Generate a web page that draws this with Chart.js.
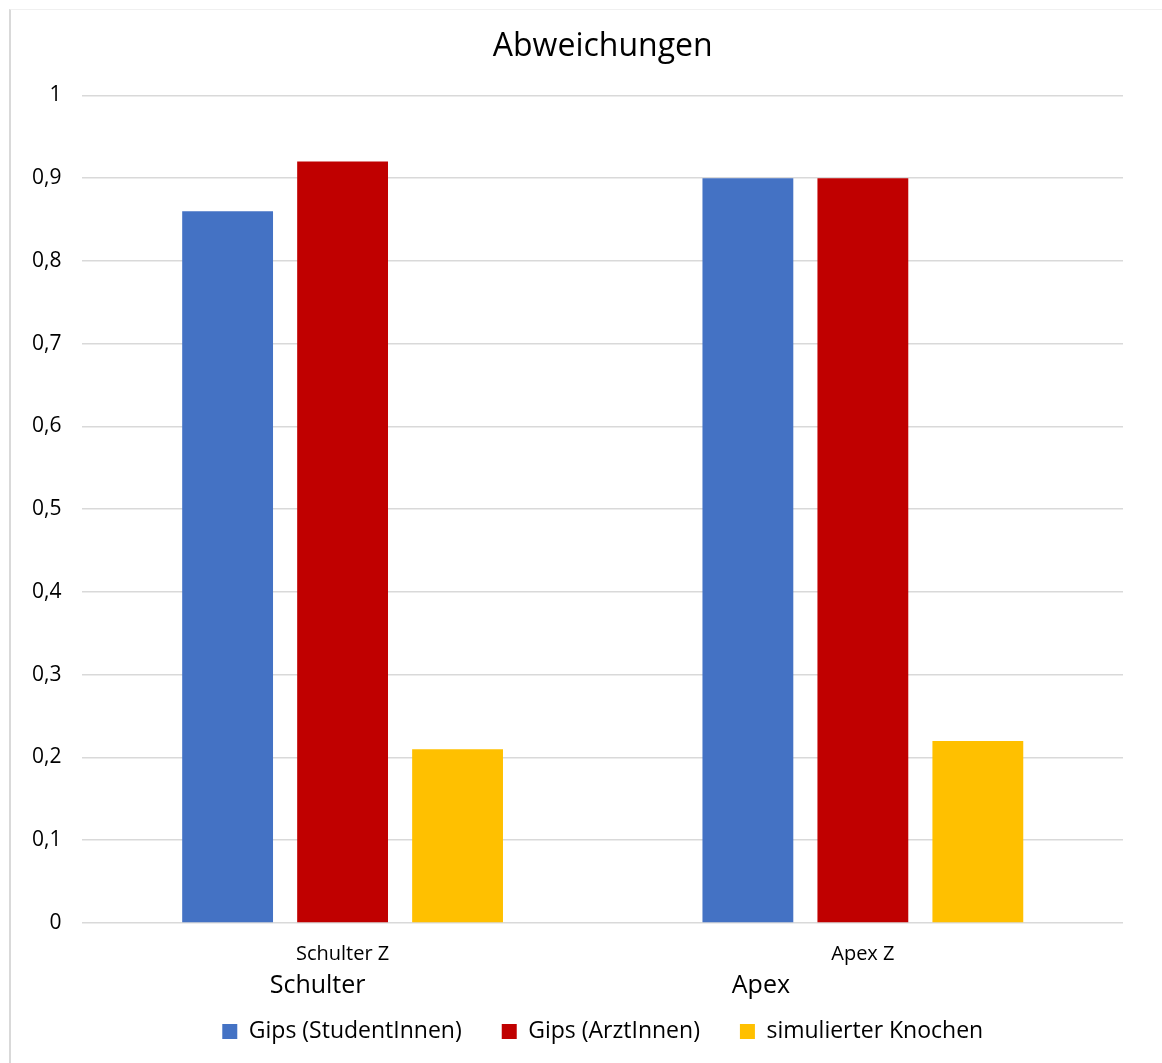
<!DOCTYPE html>
<html><head><meta charset="utf-8">
<script src="https://cdn.jsdelivr.net/npm/chart.js@4"></script>
<style>
html,body{margin:0;padding:0;background:#fff;overflow:hidden}
#wrap{position:absolute;left:9px;top:9px;width:1153px;height:1054px;border-left:2px solid #d9d9d9;border-top:1px solid #f0f0f0;box-sizing:border-box}
</style></head>
<body><div id="wrap"><canvas id="c"></canvas></div>
<script>
const categories = ['Schulter Z', 'Apex Z'];
const groupLabels = ['Schulter', 'Apex'];
const seriesNames = ['Gips (StudentInnen)', 'Gips (ArztInnen)', 'simulierter Knochen'];
const studentValues = [0.86, 0.90];
const arztValues = [0.92, 0.90];
const knochenValues = [0.21, 0.22];
const colors = ['#4472C4', '#C00000', '#FFC000'];
const FONT = "'Open Sans', sans-serif";

// horizontal shift of the second-level labels, as a fraction of category width
const groupShift = [-0.048, -0.196];

const groupLabelPlugin = {
  id: 'groupLabels',
  afterDraw(chart) {
    const x = chart.scales.x, ctx = chart.ctx;
    const w = x.getPixelForValue(1) - x.getPixelForValue(0);
    ctx.save();
    ctx.font = "25px " + FONT;
    ctx.fillStyle = '#000';
    ctx.textAlign = 'center';
    ctx.textBaseline = 'middle';
    groupLabels.forEach((t, i) => {
      ctx.fillText(t, x.getPixelForValue(i) + groupShift[i] * w, x.top + 63);
    });
    ctx.restore();
  }
};

new Chart(document.getElementById('c'), {
  type: 'bar',
  data: {
    labels: categories,
    datasets: [
      { label: seriesNames[0], data: studentValues, backgroundColor: colors[0] },
      { label: seriesNames[1], data: arztValues, backgroundColor: colors[1] },
      { label: seriesNames[2], data: knochenValues, backgroundColor: colors[2] }
    ]
  },
  options: {
    responsive: true,
    maintainAspectRatio: false,
    animation: false,
    datasets: { bar: { categoryPercentage: 0.663, barPercentage: 0.79 } },
    layout: { padding: { left: 0, right: 39, top: 18, bottom: 10 } },
    plugins: {
      title: {
        display: true, text: 'Abweichungen', color: '#000', fullSize: false,
        font: { family: FONT, size: 32, weight: 'normal' },
        padding: { top: 0, bottom: 29 }
      },
      legend: {
        position: 'bottom', fullSize: false,
        labels: {
          color: '#000', boxWidth: 15, boxHeight: 15, padding: 40,
          font: { family: FONT, size: 23 }
        }
      },
      tooltip: { enabled: false }
    },
    scales: {
      x: {
        grid: { display: false, drawTicks: false },
        border: { display: false },
        ticks: { color: '#000', font: { family: FONT, size: 20 }, padding: 19 },
        afterFit(s) { s.height -= 5; }
      },
      y: {
        min: 0, max: 1,
        grid: { color: '#d9d9d9', lineWidth: 1.5, drawTicks: false },
        border: { display: false },
        ticks: {
          stepSize: 0.1, color: '#000', padding: 21,
          font: { family: FONT, size: 21 },
          callback: v => (Math.round(v * 10) / 10).toString().replace('.', ',')
        }
      }
    }
  },
  plugins: [groupLabelPlugin]
});
</script>
</body></html>
